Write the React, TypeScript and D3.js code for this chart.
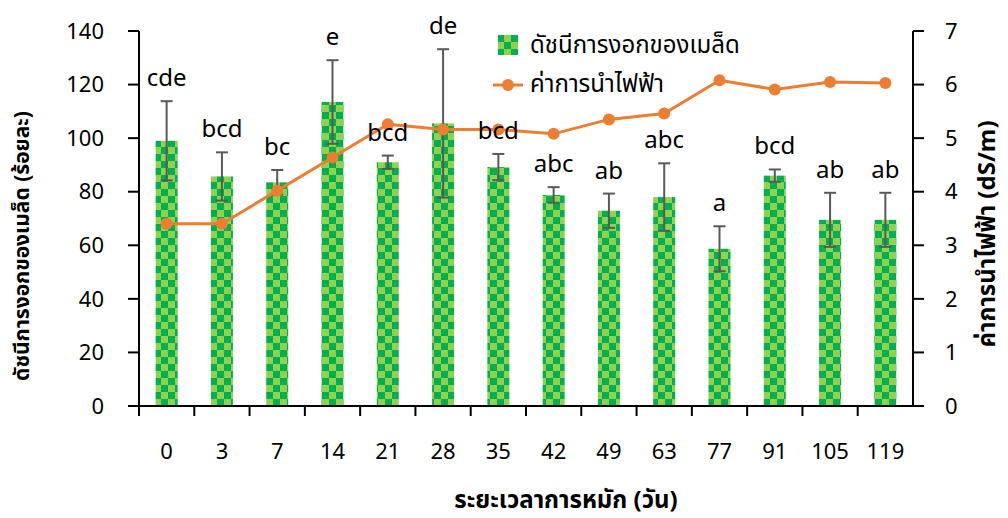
import React, { useEffect, useRef } from 'react';
import * as d3 from 'd3';

// ระยะเวลาการหมัก (วัน)
const days = ['0', '3', '7', '14', '21', '28', '35', '42', '49', '63', '77', '91', '105', '119'];
// ดัชนีการงอกของเมล็ด (ร้อยละ)
const germination = [99, 85.7, 83.5, 113.5, 91, 105.5, 89.2, 78.8, 72.9, 78, 58.7, 86, 69.5, 69.5];
const germErr = [14.8, 9, 4.6, 15.6, 2.5, 27.7, 4.9, 2.9, 6.4, 12.6, 8.4, 2.3, 10.1, 10.1];
const letters = ['cde', 'bcd', 'bc', 'e', 'bcd', 'de', 'bcd', 'abc', 'ab', 'abc', 'a', 'bcd', 'ab', 'ab'];
// ค่าการนำไฟฟ้า (dS/m)
const ec = [3.4, 3.4, 4.02, 4.64, 5.26, 5.16, 5.16, 5.08, 5.35, 5.46, 6.08, 5.91, 6.05, 6.03];

const leftTicks = [0, 20, 40, 60, 80, 100, 120, 140];
const rightTicks = [0, 1, 2, 3, 4, 5, 6, 7];

const FONT = "'Noto Sans Thai', 'Leelawadee UI', Tahoma, 'Noto Sans', sans-serif";

const App = () => {
  const chartRef = useRef<SVGSVGElement>(null);

  useEffect(() => {
    drawChart();
  }, []);

  const drawChart = () => {
    const width = 1008, height = 518;
    const margin = { top: 31, right: 95, bottom: 112, left: 139 };
    const svg = d3.select(chartRef.current);
    svg.selectAll('*').remove();

    const xb = d3.scaleBand().domain(days).range([margin.left, width - margin.right]);
    const y = d3.scaleLinear().domain([0, 140]).range([height - margin.bottom, margin.top]);
    const y2 = d3.scaleLinear().domain([0, 7]).range([height - margin.bottom, margin.top]);
    const x0 = margin.left, x1 = width - margin.right, yb = height - margin.bottom;
    const cx = (i: number) => xb(days[i])! + xb.bandwidth() / 2;

    // ลายตารางหมากรุก
    const defs = svg.append('defs');
    const pat = defs.append('pattern').attr('id', 'checker')
      .attr('patternUnits', 'userSpaceOnUse').attr('width', 14).attr('height', 14);
    pat.append('rect').attr('width', 14).attr('height', 14).attr('fill', '#92D050');
    pat.append('rect').attr('width', 7).attr('height', 7).attr('fill', '#00B050');
    pat.append('rect').attr('x', 7).attr('y', 7).attr('width', 7).attr('height', 7).attr('fill', '#00B050');

    // bars
    svg.append('g').selectAll('rect').data(germination).join('rect')
      .attr('x', (d, i) => cx(i) - 11)
      .attr('width', 22)
      .attr('y', d => y(d))
      .attr('height', d => yb - y(d))
      .attr('fill', 'url(#checker)');

    // error bars
    const eg = svg.append('g').attr('stroke', '#595959').attr('stroke-width', 2);
    germination.forEach((v, i) => {
      const top = y(v + germErr[i]), bot = y(v - germErr[i]);
      eg.append('line').attr('x1', cx(i)).attr('x2', cx(i)).attr('y1', top).attr('y2', bot);
      eg.append('line').attr('x1', cx(i) - 6).attr('x2', cx(i) + 6).attr('y1', top).attr('y2', top);
      eg.append('line').attr('x1', cx(i) - 6).attr('x2', cx(i) + 6).attr('y1', bot).attr('y2', bot);
    });

    // EC line
    const line = d3.line<number>()
      .x((d, i) => cx(i))
      .y(d => y2(d));
    svg.append('path').datum(ec).attr('d', line)
      .attr('fill', 'none').attr('stroke', '#ED7D31').attr('stroke-width', 3);
    svg.append('g').selectAll('circle').data(ec).join('circle')
      .attr('cx', (d, i) => cx(i))
      .attr('cy', d => y2(d))
      .attr('r', 6).attr('fill', '#ED7D31');

    // letters
    svg.append('g').selectAll('text').data(letters).join('text')
      .attr('x', (d, i) => cx(i))
      .attr('y', (d, i) => y(germination[i] + germErr[i]) - 15)
      .attr('text-anchor', 'middle')
      .style('font-family', FONT).style('font-size', '24px').attr('fill', '#000')
      .text(d => d);

    // axes
    const ax = svg.append('g').attr('stroke', '#000').attr('stroke-width', 2);
    ax.append('line').attr('x1', x0).attr('x2', x0).attr('y1', margin.top).attr('y2', yb);
    ax.append('line').attr('x1', x1).attr('x2', x1).attr('y1', margin.top).attr('y2', yb);
    ax.append('line').attr('x1', x0 - 10).attr('x2', x1 + 10).attr('y1', yb).attr('y2', yb);
    leftTicks.forEach(t => {
      ax.append('line').attr('x1', x0 - 11).attr('x2', x0).attr('y1', y(t)).attr('y2', y(t));
    });
    rightTicks.forEach(t => {
      ax.append('line').attr('x1', x1).attr('x2', x1 + 11).attr('y1', y2(t)).attr('y2', y2(t));
    });
    days.forEach(d => {
      ax.append('line').attr('x1', xb(d)!).attr('x2', xb(d)!).attr('y1', yb).attr('y2', yb + 10);
    });

    const lab = svg.append('g').style('font-family', FONT).style('font-size', '22px').attr('fill', '#000');
    leftTicks.forEach(t => {
      lab.append('text').attr('x', 104).attr('y', y(t)).attr('dy', '0.35em')
        .attr('text-anchor', 'end').text(t);
    });
    rightTicks.forEach(t => {
      lab.append('text').attr('x', 945).attr('y', y2(t)).attr('dy', '0.35em')
        .attr('text-anchor', 'start').text(t);
    });
    days.forEach((d, i) => {
      lab.append('text').attr('x', cx(i)).attr('y', 451).attr('dy', '0.35em')
        .attr('text-anchor', 'middle').text(d);
    });

    // axis titles
    const tt = svg.append('g').style('font-family', FONT)
      .style('font-weight', 'bold').attr('fill', '#000');
    tt.append('text').attr('transform', 'translate(22,246) rotate(-90)').attr('dy', '0.35em')
      .style('font-size', '21px').attr('text-anchor', 'middle').text('ดัชนีการงอกของเมล็ด (ร้อยละ)');
    tt.append('text').attr('transform', 'translate(987,234) rotate(-90)').attr('dy', '0.35em')
      .style('font-size', '24px').attr('text-anchor', 'middle').text('ค่าการนำไฟฟ้า (dS/m)');
    tt.append('text').attr('x', 566).attr('y', 500).attr('dy', '0.35em')
      .style('font-size', '24px').attr('text-anchor', 'middle').text('ระยะเวลาการหมัก (วัน)');

    // legend
    const lg = svg.append('g').style('font-family', FONT).style('font-size', '24px').attr('fill', '#000');
    lg.append('rect').attr('x', 498).attr('y', 35).attr('width', 20).attr('height', 20).attr('fill', 'url(#checker)');
    lg.append('text').attr('x', 530).attr('y', 45).attr('dy', '0.35em').text('ดัชนีการงอกของเมล็ด');
    lg.append('line').attr('x1', 493).attr('x2', 523).attr('y1', 85).attr('y2', 85)
      .attr('stroke', '#ED7D31').attr('stroke-width', 3);
    lg.append('circle').attr('cx', 508).attr('cy', 85).attr('r', 6).attr('fill', '#ED7D31');
    lg.append('text').attr('x', 530).attr('y', 84).attr('dy', '0.35em').text('ค่าการนำไฟฟ้า');
  };

  return (
    <svg ref={chartRef} width={1008} height={518}
      style={{ position: 'absolute', left: 0, top: 0, background: '#fff' }} />
  );
};

export default App;
